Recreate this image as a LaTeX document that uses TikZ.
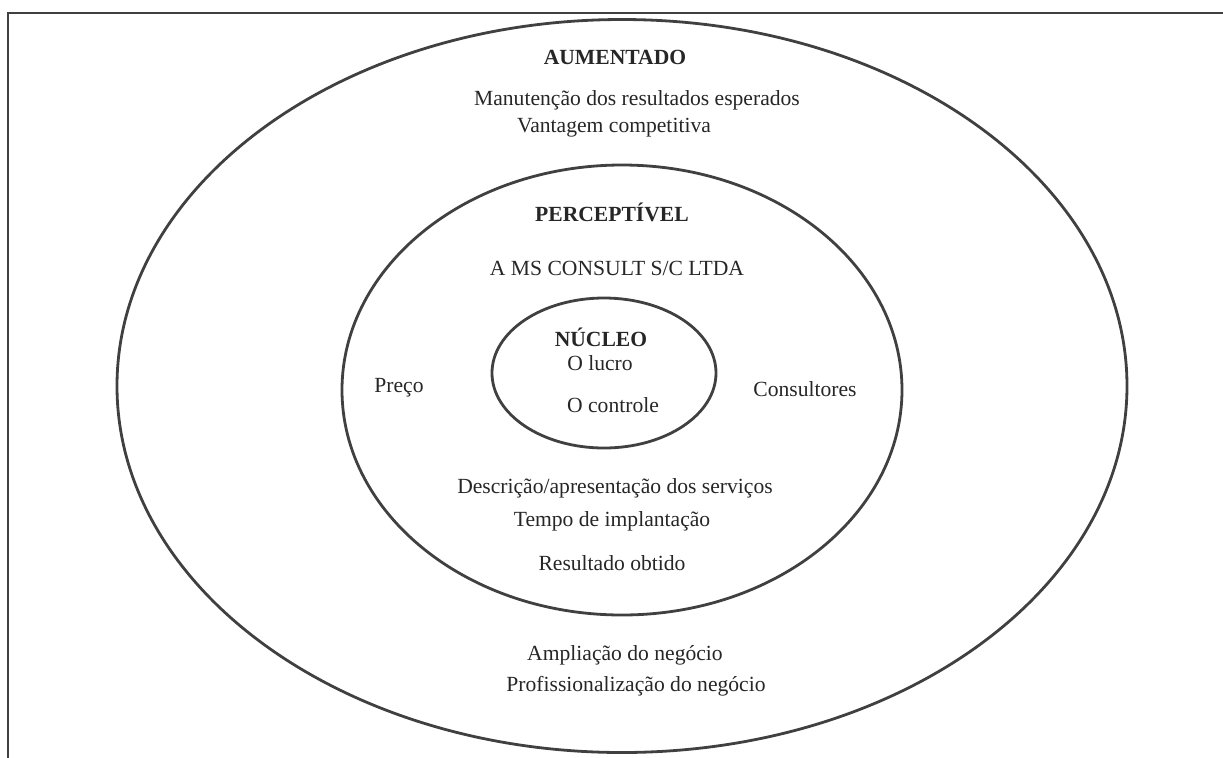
\documentclass[tikz,border=0pt]{standalone}
\usepackage{fontspec}
\setmainfont{Liberation Serif}
\usetikzlibrary{shapes.geometric,positioning}

\tikzset{
  ring/.style={draw=black!75, line width=1.4pt, ellipse, inner sep=0pt},
  lbl/.style={font=\fontsize{10.8}{13}\selectfont, text=black!85, inner sep=0pt},
  ttl/.style={font=\fontsize{10.8}{13}\selectfont\bfseries, text=black!85, inner sep=0pt}
}

\begin{document}
\begin{tikzpicture}[x=0.5pt,y=-0.5pt]
  \useasboundingbox (0,0) rectangle (1223,757);
  \clip (0,0) rectangle (1223,757);
  % frame
  \draw[black!75, line width=0.9pt] (8,780) -- (8,13) -- (1240,13) -- (1240,780);

  % rings
  \node[ring, minimum width=505pt, minimum height=366.5pt] (aumentado) at (622,386) {};
  \node[ring, minimum width=280pt, minimum height=225pt] (perceptivel) at (622,390) {};
  \node[ring, minimum width=112pt, minimum height=75pt] (nucleo) at (604,373) {};

  % outer ring
  \node[ttl] (aum) at (615,57) {AUMENTADO};
  \node[lbl] (manut) at (637,100) {Manutenção dos resultados esperados};
  \node[lbl] (vant) at (614,128) {Vantagem competitiva};
  \node[lbl] (ampl) at (625,655) {Ampliação do negócio};
  \node[lbl] (prof) at (636,686) {Profissionalização do negócio};

  % middle ring
  \node[ttl] (perc) at (612,212) {PERCEPTÍVEL};
  \node[lbl] (ms) at (617,268) {A MS CONSULT S/C LTDA};
  \node[lbl] (preco) at (399,388) {Preço};
  \node[lbl] (consult) at (805,389) {Consultores};
  \node[lbl] (descr) at (615,488) {Descrição/apresentação dos serviços};
  \node[lbl] (tempo) at (612,521) {Tempo de implantação};
  \node[lbl] (result) at (612,563) {Resultado obtido};

  % inner ring
  \node[ttl] (nuc) at (601,337) {NÚCLEO};
  \node[lbl] (lucro) at (600,363) {O lucro};
  \node[lbl] (controle) at (613,405) {O controle};
\end{tikzpicture}
\end{document}
